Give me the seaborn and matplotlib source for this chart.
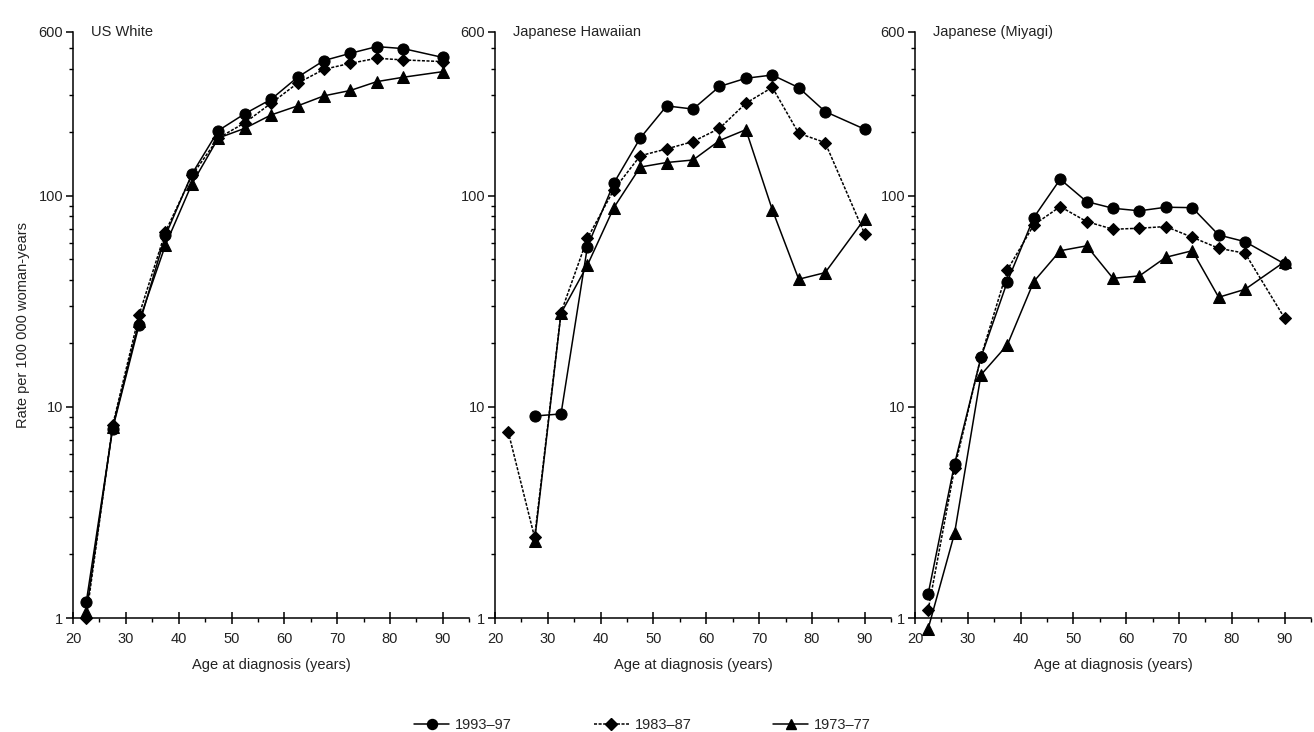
import numpy as np
import pandas as pd
import matplotlib
matplotlib.use("Agg")
import matplotlib.pyplot as plt
from matplotlib.ticker import FixedLocator, LogLocator, NullFormatter, FixedFormatter, MultipleLocator
from matplotlib.lines import Line2D
import seaborn as sns

sns.set_theme(style="ticks")
plt.rcParams['font.family'] = ['Liberation Sans', 'DejaVu Sans']

ages = [22.5, 27.5, 32.5, 37.5, 42.5, 47.5, 52.5, 57.5, 62.5, 67.5, 72.5, 77.5, 82.5, 90]
periods = ["1993–97", "1983–87", "1973–77"]
panels = ["US White", "Japanese Hawaiian", "Japanese (Miyagi)"]

us_1993 = [1.19, 7.9, 24.5, 65, 127, 204, 245, 287, 365, 438, 474, 510, 499, 453]
us_1983 = [1.0, 8.2, 27.3, 67.7, 125, 188, 222, 275, 342, 398, 425, 449, 441, 433]
us_1973 = [1.07, 8.0, 25.5, 58.6, 114, 188, 209, 242, 267, 298, 316, 348, 365, 388]

jh_1993 = [np.nan, 9.06, 9.27, 57.5, 115, 188, 267, 258, 330, 361, 374, 326, 251, 207]
jh_1983 = [7.64, 2.41, 28, 63, 107, 155, 167, 181, 209, 275, 327, 198, 179, 66]
jh_1973 = [np.nan, 2.32, 27.8, 47, 88, 137, 144, 148, 183, 206, 86, 40.3, 43.3, 78]

jm_1993 = [1.30, 5.37, 17.2, 39.3, 79, 120, 94, 87.4, 85, 88.4, 88, 65.3, 60.7, 47.6]
jm_1983 = [1.09, 5.12, 17.3, 44.6, 72.9, 89, 75.6, 69.5, 70.3, 71.6, 63.7, 56.5, 53.5, 26.3]
jm_1973 = [0.89, 2.52, 14.2, 19.7, 39.3, 55, 58, 40.7, 41.8, 51.2, 55, 33.1, 36.1, 48.8]

panel_data = [
    [us_1993, us_1983, us_1973],
    [jh_1993, jh_1983, jh_1973],
    [jm_1993, jm_1983, jm_1973],
]

styles = {
    "1993–97": dict(marker="o", linestyle="-", markersize=8),
    "1983–87": dict(marker="D", linestyle=(0, (2, 1)), markersize=6.5),
    "1973–77": dict(marker="^", linestyle="-", markersize=8.5),
}

fig = plt.figure(figsize=(13.14, 7.32), dpi=100)
lefts = [0.0556, 0.3767, 0.6963]
bottom, width, height = 0.1557, 0.3015, 0.801

for i, (name, series) in enumerate(zip(panels, panel_data)):
    ax = fig.add_axes([lefts[i], bottom, width, height])
    for per, vals in zip(periods, series):
        df = pd.DataFrame({"age": ages, "rate": vals}).dropna()
        st = styles[per]
        sns.lineplot(data=df, x="age", y="rate", ax=ax, color="black",
                     marker=st["marker"], linestyle=st["linestyle"],
                     markersize=st["markersize"], linewidth=1.1,
                     markeredgecolor="black", markerfacecolor="black",
                     clip_on=False, zorder=3, legend=False)
    ax.set_yscale("log")
    ax.set_ylim(1, 600)
    ax.set_xlim(20, 95)
    ax.yaxis.set_major_locator(FixedLocator([1, 10, 100, 600]))
    ax.yaxis.set_major_formatter(FixedFormatter(["1", "10", "100", "600"]))
    ax.yaxis.set_minor_locator(LogLocator(base=10, subs=np.arange(2, 10), numticks=20))
    ax.yaxis.set_minor_formatter(NullFormatter())
    ax.xaxis.set_major_locator(FixedLocator([20, 30, 40, 50, 60, 70, 80, 90]))
    ax.xaxis.set_minor_locator(MultipleLocator(5))
    for side in ["top", "right"]:
        ax.spines[side].set_visible(False)
    for side in ["left", "bottom"]:
        ax.spines[side].set_color("black")
        ax.spines[side].set_linewidth(1.1)
    ax.tick_params(axis="both", which="major", length=5, width=1.1, color="black",
                   labelsize=10.5, labelcolor="#222222", pad=2)
    ax.tick_params(axis="x", which="major", direction="inout", length=8, pad=6)
    ax.tick_params(axis="both", which="minor", length=3, width=1.0, color="black")
    ax.set_xlabel("Age at diagnosis (years)", fontsize=10.5, color="#222222", labelpad=9)
    if i == 0:
        ax.set_ylabel("Rate per 100 000 woman-years", fontsize=10.5, color="#222222", labelpad=6)
    else:
        ax.set_ylabel("")
    ax.text(0.045, 1.0, name, transform=ax.transAxes, fontsize=10.5,
            color="#222222", va="center", ha="left")
    ax.grid(False)
    ax.set_facecolor("white")

handles = [Line2D([], [], color="black", linewidth=1.1,
                  marker=styles[p]["marker"], linestyle=styles[p]["linestyle"],
                  markersize=styles[p]["markersize"] * 0.9) for p in periods]
fig.legend(handles, periods, loc="lower center", bbox_to_anchor=(0.489, -0.018),
           ncol=3, frameon=False, fontsize=10.5, handlelength=2.4,
           columnspacing=5.6, handletextpad=0.4)

fig.savefig("out.png", dpi=100, facecolor="white")
